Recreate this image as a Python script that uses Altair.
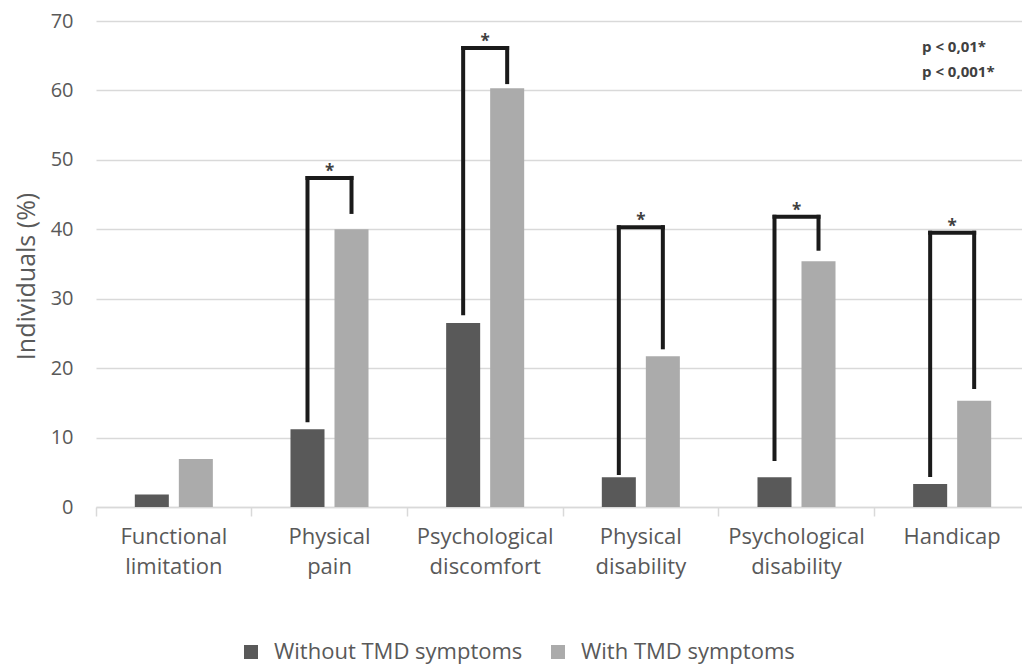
import altair as alt
import pandas as pd

# Oral-health impact domains and the share of individuals affected (%)
categories = [
    "Functional limitation",
    "Physical pain",
    "Psychological discomfort",
    "Physical disability",
    "Psychological disability",
    "Handicap",
]
groups = ["Without TMD symptoms", "With TMD symptoms"]
without_tmd = [1.8, 11.2, 26.5, 4.3, 4.3, 3.3]
with_tmd = [6.9, 40.0, 60.3, 21.7, 35.4, 15.3]

# Significance brackets (in % units): left foot, bar top, right foot
sig_categories = categories[1:]
bracket_left_foot = [12.5, 27.9, 4.9, 6.9, 4.6]
bracket_top = [47.4, 66.1, 40.3, 41.8, 39.5]
bracket_right_foot = [42.5, 61.2, 23.0, 37.2, 17.3]

p_labels = ["p < 0,01*", "p < 0,001*"]

FONT = "Open Sans"
DARK = "#595959"
LIGHT = "#ababab"
INK = "#1a1a1a"
TEXT = "#595959"

bars = pd.DataFrame(
    {
        "category": categories * 2,
        "group": [groups[0]] * len(categories) + [groups[1]] * len(categories),
        "value": without_tmd + with_tmd,
    }
)

legs = pd.DataFrame(
    {
        "category": sig_categories * 2,
        "group": [groups[0]] * len(sig_categories) + [groups[1]] * len(sig_categories),
        "low": bracket_left_foot + bracket_right_foot,
        "high": bracket_top + bracket_top,
    }
)

tops = pd.DataFrame({"category": sig_categories, "top": bracket_top, "star": ["*"] * len(sig_categories)})

# Category bands fill the whole step so axis ticks fall on the category boundaries;
# the spacing around each pair of bars comes from the offset scale.
x_scale = alt.Scale(domain=categories, paddingInner=0, paddingOuter=0, range=[0, 934])
off_scale = alt.Scale(domain=groups, paddingInner=0.227, paddingOuter=0.882)
y_scale = alt.Scale(domain=[0, 70], nice=False)

x_axis = alt.Axis(
    title=None,
    labelAngle=0,
    labelExpr="split(datum.label, ' ')",
    labelFont=FONT,
    labelFontSize=22,
    labelColor=TEXT,
    labelLineHeight=30,
    labelPadding=10,
    labelLimit=300,
    bandPosition=0,
    domainColor="#d9d9d9",
    domainWidth=1.5,
    tickColor="#d9d9d9",
    tickWidth=1.5,
    tickSize=9,
)

y_axis = alt.Axis(
    title="Individuals (%)",
    values=[0, 10, 20, 30, 40, 50, 60, 70],
    domain=False,
    ticks=False,
    labelPadding=23,
    labelFont=FONT,
    labelFontSize=20,
    labelColor=TEXT,
    gridColor="#d9d9d9",
    gridWidth=1.5,
    titleFont=FONT,
    titleFontSize=25,
    titleFontWeight="normal",
    titleColor=TEXT,
    titlePadding=11,
    titleY=255,
)

bar_layer = (
    alt.Chart(bars)
    .mark_bar()
    .encode(
        x=alt.X("category:N", scale=x_scale, axis=x_axis, sort=categories),
        xOffset=alt.XOffset("group:N", scale=off_scale, sort=groups),
        y=alt.Y("value:Q", scale=y_scale, axis=y_axis),
        color=alt.Color(
            "group:N",
            scale=alt.Scale(domain=groups, range=[DARK, LIGHT]),
            sort=groups,
            legend=alt.Legend(
                title=None,
                orient="none",
                direction="horizontal",
                legendX=144,
                legendY=620,
                symbolType="square",
                symbolSize=196,
                symbolStrokeWidth=0,
                labelFont=FONT,
                labelFontSize=22,
                labelColor=TEXT,
                labelOffset=12,
                labelLimit=400,
                columnPadding=24,
            ),
        ),
    )
)

leg_layer = (
    alt.Chart(legs)
    .mark_rule(color=INK, strokeWidth=4, strokeCap="square")
    .encode(
        x=alt.X("category:N", scale=x_scale, sort=categories),
        xOffset=alt.XOffset("group:N", scale=off_scale, sort=groups),
        y=alt.Y("low:Q", scale=y_scale),
        y2="high:Q",
    )
)

cap_layer = (
    alt.Chart(tops)
    .mark_tick(color=INK, thickness=4, size=48, orient="horizontal", opacity=1)
    .encode(
        x=alt.X("category:N", scale=x_scale, sort=categories),
        y=alt.Y("top:Q", scale=y_scale),
    )
)

star_layer = (
    alt.Chart(tops)
    .mark_text(font=FONT, fontSize=17, fontWeight="bold", color="#404040", baseline="middle", dy=-6)
    .encode(
        x=alt.X("category:N", scale=x_scale, sort=categories),
        y=alt.Y("top:Q", scale=y_scale),
        text="star:N",
    )
)

p_layers = [
    alt.Chart(pd.DataFrame({"label": [p_labels[0]]}))
    .mark_text(font=FONT, fontSize=15, fontWeight="bold", color="#404040", align="left", baseline="middle")
    .encode(x=alt.value(826), y=alt.value(26), text="label:N"),
    alt.Chart(pd.DataFrame({"label": [p_labels[1]]}))
    .mark_text(font=FONT, fontSize=15, fontWeight="bold", color="#404040", align="left", baseline="middle")
    .encode(x=alt.value(826), y=alt.value(51), text="label:N"),
]

chart = (
    alt.layer(bar_layer, leg_layer, cap_layer, star_layer, *p_layers)
    .properties(
        width=926,
        height=486,
        autosize=alt.AutoSizeParams(type="none"),
        padding={"left": 96, "top": 21, "right": 0, "bottom": 157},
        background="white",
    )
    .configure_view(stroke=None)
)

chart.save("out.html", embed_options={"renderer": "svg", "actions": False})
